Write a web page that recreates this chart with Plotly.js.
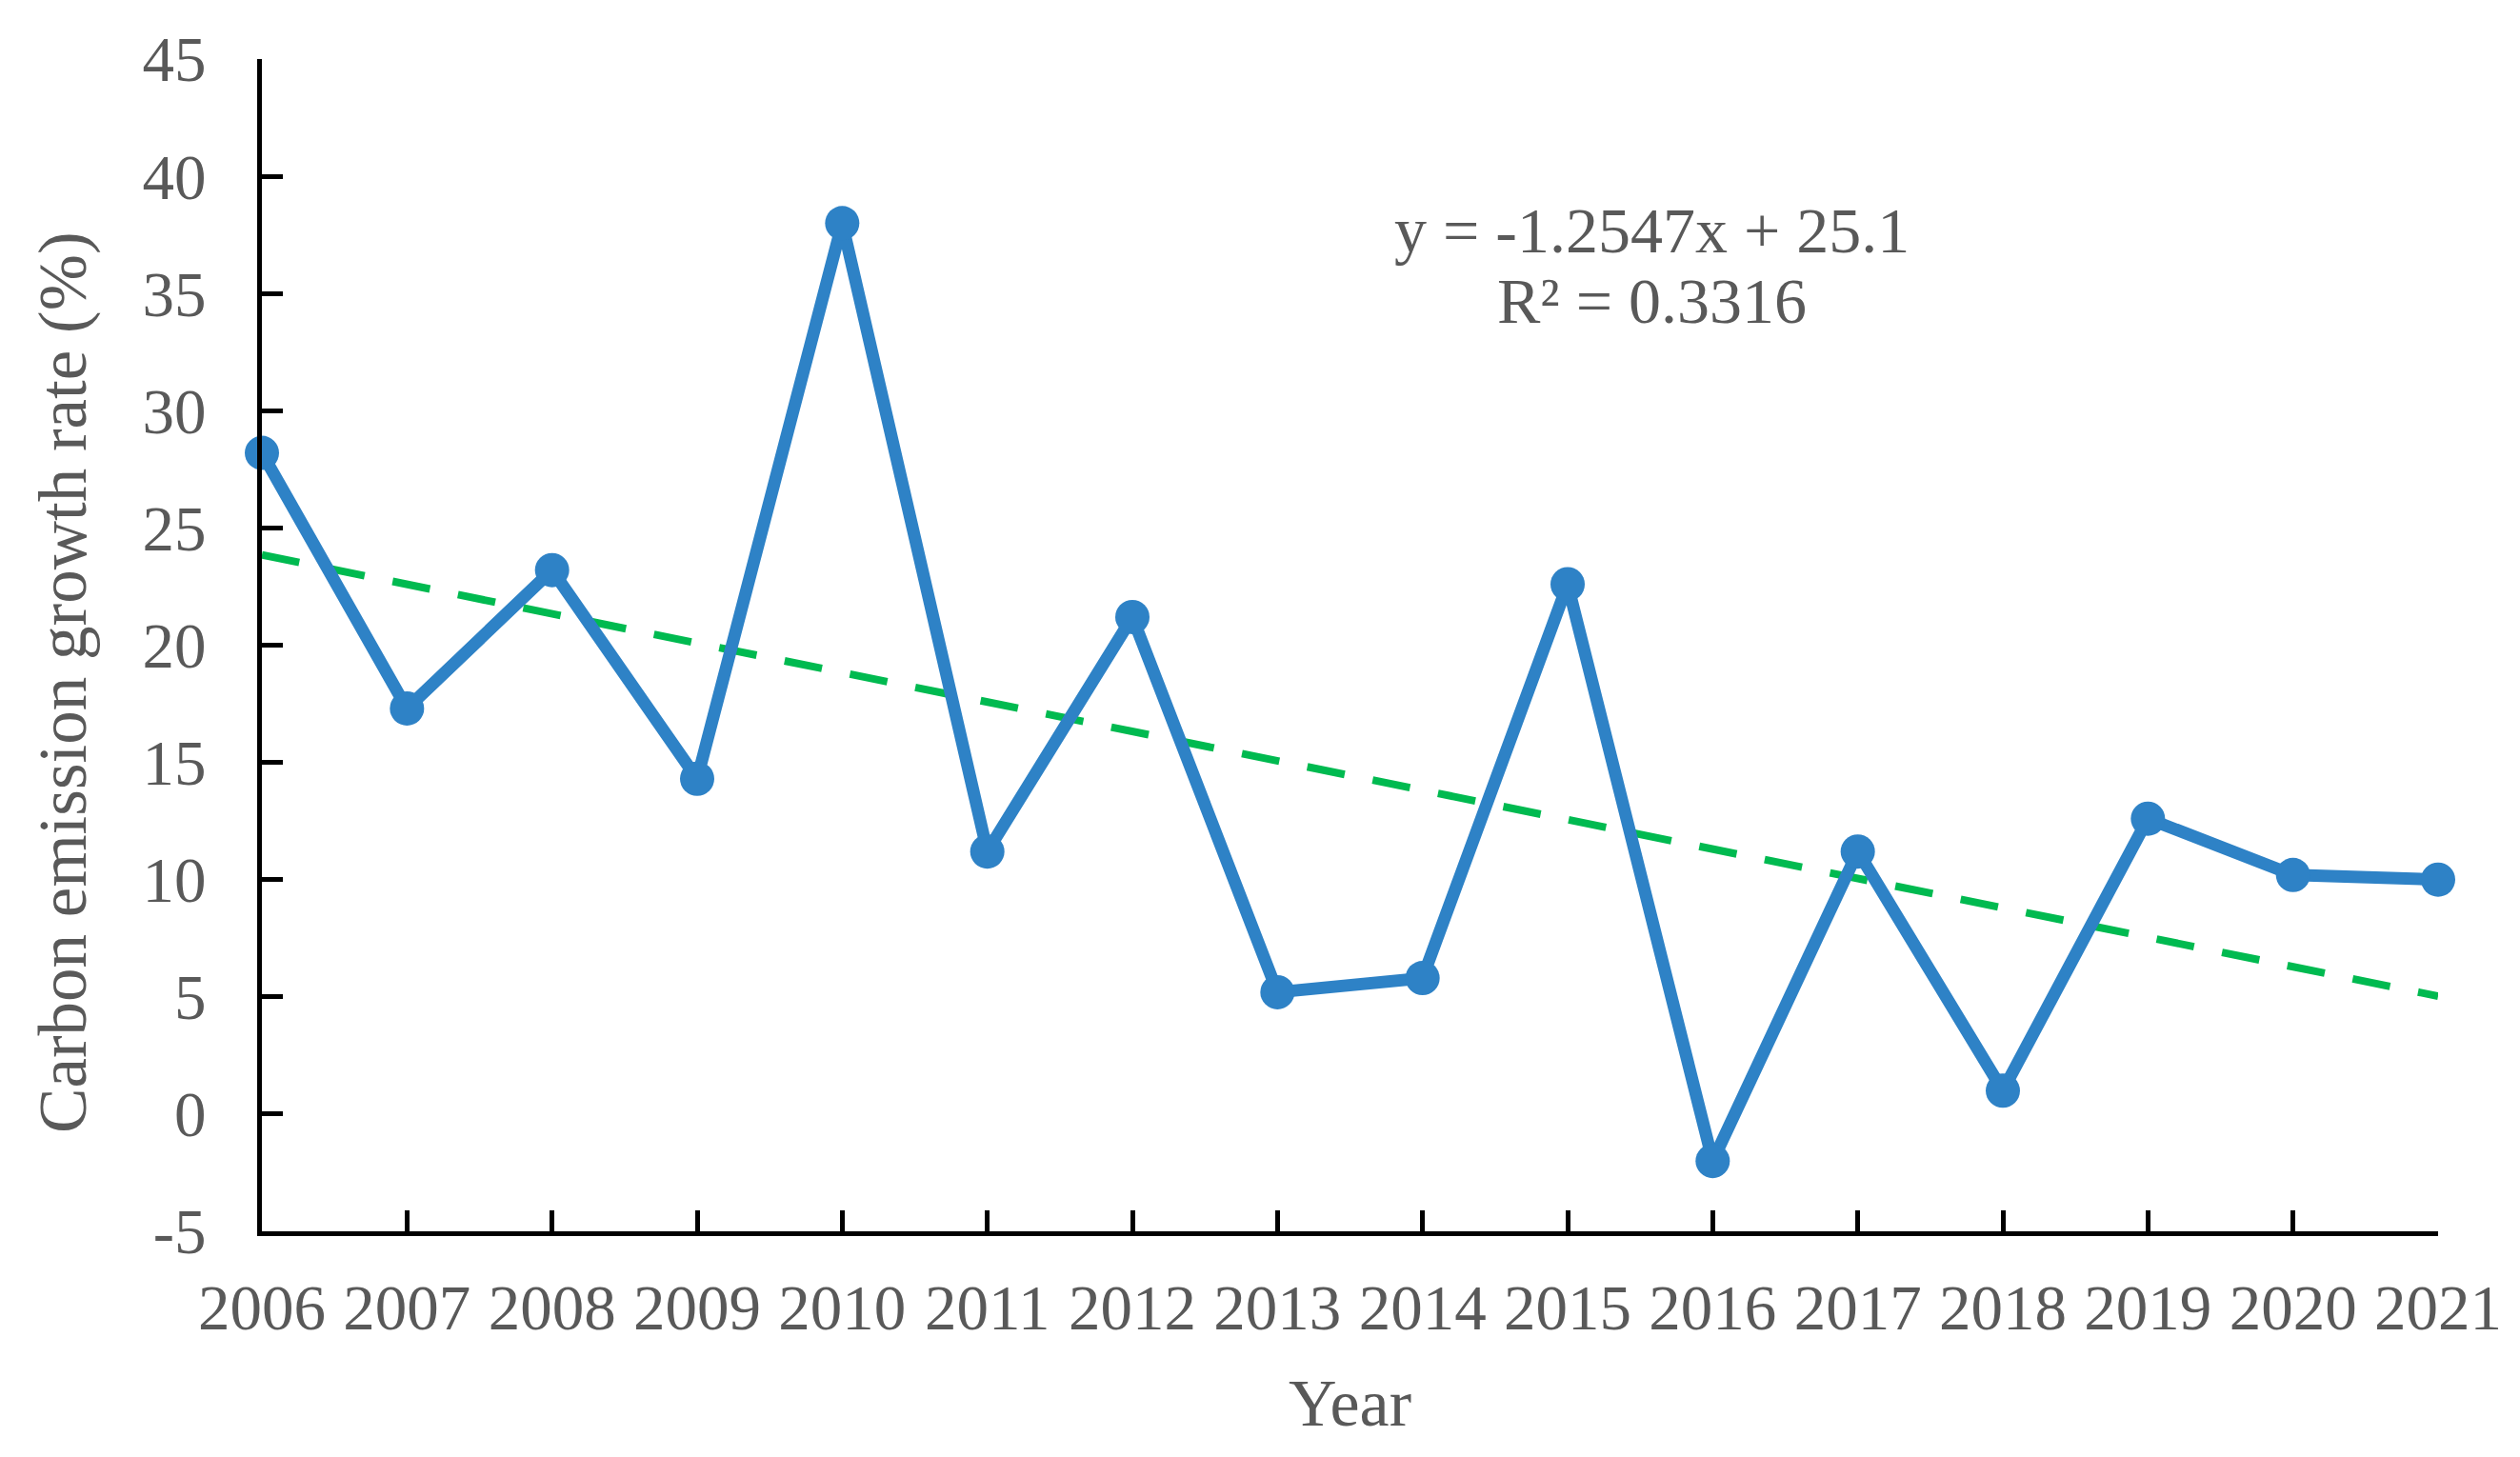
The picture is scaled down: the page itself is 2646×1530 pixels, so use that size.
<!DOCTYPE html>
<html>
<head>
<meta charset="utf-8">
<script src="https://cdn.plot.ly/plotly-3.0.1.min.js"></script>
<style>html,body{margin:0;padding:0;background:#fff;}#chart{width:2646px;height:1530px;}</style>
</head>
<body>
<div id="chart"></div>
<script>
const years = [2006,2007,2008,2009,2010,2011,2012,2013,2014,2015,2016,2017,2018,2019,2020,2021];
const growthRate = [28.2,17.3,23.2,14.3,38.0,11.2,21.2,5.2,5.8,22.6,-2.0,11.2,1.0,12.6,10.2,10.0];
const trendYears = [2006, 2021];
const trendValues = [23.85, 5.03];
const equationText = "y = -1.2547x + 25.1";
const r2Text = "R² = 0.3316";
const yTicks = [-5,0,5,10,15,20,25,30,35,40,45];
const yTickLabels = ["-5","0","5","10","15","20","25","30","35","40","45"];
const xTitle = "Year";
const yTitle = "Carbon emission growth rate (%)";

const grey = "#595959";
const fontFam = "Liberation Serif, Times New Roman, serif";

const traces = [
  {
    x: trendYears, y: trendValues, mode: "lines", type: "scatter",
    line: {color: "#00BA50", width: 8, dash: "40px,30px"},
    hoverinfo: "skip", showlegend: false, cliponaxis: false
  },
  {
    x: years, y: growthRate, mode: "lines+markers", type: "scatter",
    line: {color: "#2E82C6", width: 13},
    marker: {color: "#2E82C6", size: 36},
    showlegend: false, cliponaxis: false
  }
];

const layout = {
  width: 2646, height: 1530,
  paper_bgcolor: "#fff", plot_bgcolor: "#fff",
  margin: {l: 275, r: 86, t: 62, b: 237},
  font: {family: fontFam, color: grey, size: 66},
  xaxis: {
    range: [2006, 2021], tickmode: "array", tickvals: years, ticktext: years.map(String),
    showline: true, linecolor: "#000", linewidth: 5, mirror: false,
    ticks: "inside", ticklen: 22, tickwidth: 5, tickcolor: "#000",
    showgrid: false, zeroline: false,
    tickfont: {family: fontFam, size: 67, color: grey},
    ticklabelstandoff: 18,
    title: {text: xTitle, font: {family: fontFam, size: 70, color: grey}, standoff: 40}
  },
  yaxis: {
    range: [-5, 45], tickmode: "array", tickvals: yTicks, ticktext: yTickLabels,
    showline: true, linecolor: "#000", linewidth: 5,
    ticks: "inside", ticklen: 22, tickwidth: 5, tickcolor: "#000",
    showgrid: false, zeroline: false,
    tickfont: {family: fontFam, size: 67, color: grey},
    ticklabelstandoff: 40
  },
  annotations: [
    {x: 2015.58, y: 37.7, xref: "x", yref: "y", text: equationText, showarrow: false,
     font: {family: fontFam, size: 68, color: grey}, xanchor: "center", yanchor: "middle"},
    {x: 2015.58, y: 34.7, xref: "x", yref: "y", text: r2Text, showarrow: false,
     font: {family: fontFam, size: 68, color: grey}, xanchor: "center", yanchor: "middle"},
    {x: 67, y: 0.468, xref: "paper", yref: "paper", text: yTitle, showarrow: false, textangle: -90,
     font: {family: fontFam, size: 71, color: grey}, xanchor: "center", yanchor: "middle"}
  ]
};
// x in paper px for the y-title: convert pixel offset to paper fraction
layout.annotations[2].x = (67 - layout.margin.l) / (layout.width - layout.margin.l - layout.margin.r);

Plotly.newPlot("chart", traces, layout, {staticPlot: true, displayModeBar: false});
</script>
</body>
</html>
